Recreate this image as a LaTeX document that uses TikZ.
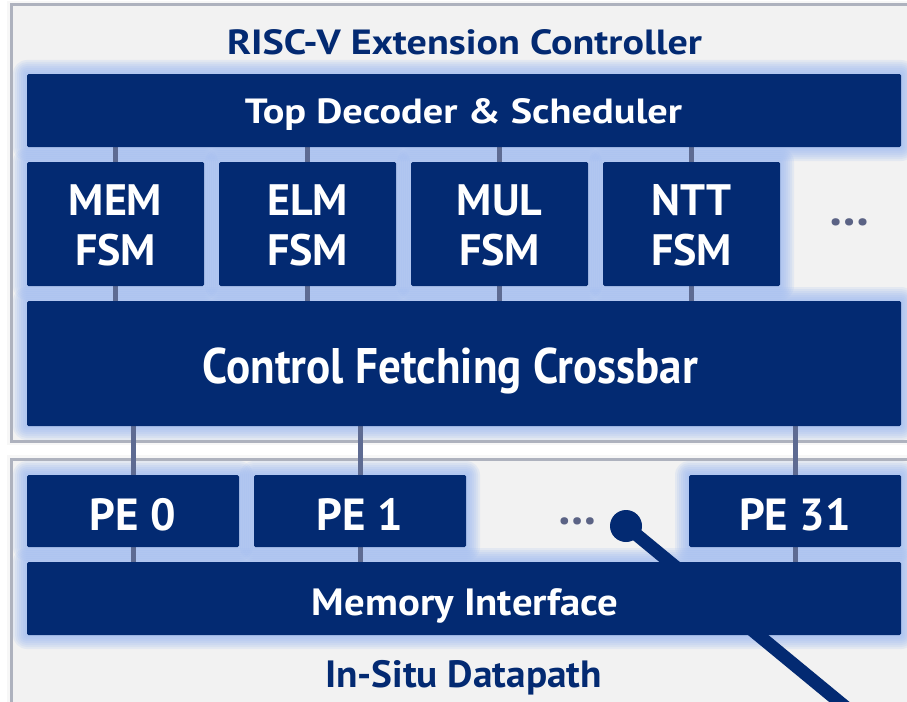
\documentclass[tikz,border=0pt]{standalone}
\usepackage{fontspec}
\setmainfont{PT Sans}
\usepackage{graphicx}
\definecolor{navy}{HTML}{032A72}
\definecolor{glowc}{HTML}{9AB8F0}
\definecolor{contfill}{HTML}{F2F2F2}
\definecolor{contline}{HTML}{AEB2BE}
\definecolor{connc}{HTML}{5E6B92}
\definecolor{dotc}{HTML}{5B6385}
\pgfdeclarelayer{base}
\pgfdeclarelayer{glowl}
\pgfdeclarelayer{connl}
\pgfdeclarelayer{front}
\pgfsetlayers{base,glowl,connl,main,front}
\newcommand{\glowbox}[4]{%
  \begin{pgfonlayer}{glowl}
  \foreach \k in {14,12,10,8,6,4,2}{
    \fill[glowc, opacity=0.16, rounded corners=\k pt] ({#1-\k},{#2-\k}) rectangle ({#3+\k},{#4+\k});
  }
  \end{pgfonlayer}}
\tikzset{
  box/.style={fill=navy, draw=none, rounded corners=1.5pt, inner sep=0pt, outer sep=0pt},
  lbl/.style={text=white, anchor=base, inner sep=0pt},
  conn/.style={draw=connc, line width=5pt},
  cont/.style={fill=contfill, draw=contline, line width=3pt},
  ttl/.style={text=navy, anchor=base, inner sep=0pt, font=\bfseries\fontsize{35}{40}\selectfont},
  dotsl/.style={text=dotc, anchor=base, inner sep=0pt, font=\bfseries\fontsize{48}{50}\selectfont},
}
\newcommand{\fsmbox}[3]{% name, left x, label
  \node[box, minimum width=177pt, minimum height=124pt] (#1) at ({#2+88.5},224) {};
  \glowbox{#2}{162}{#2+177}{286}
  \node[lbl, font=\bfseries\fontsize{44}{48}\selectfont] (#1t) at ({#2+88.5},215) {#3};
  \node[lbl, font=\bfseries\fontsize{44}{48}\selectfont] (#1u) at ({#2+88.5},265) {FSM};
}
\newcommand{\pebox}[3]{% name, left x, label
  \node[box, minimum width=212pt, minimum height=72pt] (#1) at ({#2+106},511) {};
  \glowbox{#2}{475}{#2+212}{547}
  \node[lbl, font=\bfseries\fontsize{45}{48}\selectfont] (#1t) at ({#2+106},530) {#3};
}
\begin{document}
\begin{tikzpicture}[x=1pt,y=-1pt]
\useasboundingbox (0,0) rectangle (907,701);
\clip (0,0) rectangle (907,701);
\begin{pgfonlayer}{base}
  \fill[white] (0,0) rectangle (907,701);
  \fill[contfill!60!white] (7,1) rectangle (940,445);
  \fill[contfill!60!white] (7,455) rectangle (940,740);
  \draw[cont] (11,5) rectangle (940,441);
  \draw[cont] (11,459) rectangle (940,740);
\end{pgfonlayer}

\node[ttl] (title) at (464.5,55) {\resizebox{475pt}{\height}{RISC-V Extension Controller}};

% Top decoder
\node[box, minimum width=874pt, minimum height=73pt] (top) at (464,110.5) {};
\glowbox{27}{74}{901}{147}
\node[lbl, font=\bfseries\fontsize{35}{40}\selectfont] (topt) at (463.5,123) {\resizebox{437pt}{\height}{Top Decoder \& Scheduler}};

% FSMs
\fsmbox{mem}{27}{MEM}
\fsmbox{elm}{219}{ELM}
\fsmbox{mul}{411}{MUL}
\fsmbox{ntt}{603}{NTT}
\node[dotsl] (fdots) at (849,225) {\resizebox{40pt}{\height}{…}};

% Crossbar
\node[box, minimum width=874pt, minimum height=125pt] (xbar) at (464,363.5) {};
\glowbox{27}{301}{901}{426}
\node[lbl, font=\bfseries\fontsize{50}{55}\selectfont] (xbart) at (450.5,383) {\resizebox{495pt}{\height}{Control Fetching Crossbar}};

% PEs
\pebox{pe0}{27}{PE 0}
\pebox{pe1}{254}{PE 1}
\pebox{pe31}{689}{PE 31}
\node[dotsl] (pdots) at (577.5,524) {\resizebox{38pt}{\height}{…}};

% Memory interface
\node[box, minimum width=874pt, minimum height=73pt] (memif) at (464,598.5) {};
\glowbox{27}{562}{901}{635}
\node[lbl, font=\bfseries\fontsize{38}{42}\selectfont] (memift) at (465,615) {\resizebox{306pt}{\height}{Memory Interface}};

\node[ttl, font=\bfseries\fontsize{38}{42}\selectfont] (dp) at (463.5,687) {\resizebox{277pt}{\height}{In-Situ Datapath}};

% connectors
\begin{pgfonlayer}{connl}
  \foreach \n in {mem,elm,mul,ntt}{
    \draw[conn] (\n.north) -- (\n.north |- top.south);
    \draw[conn] (\n.south) -- (\n.south |- xbar.north);
  }
  \foreach \n in {pe0,pe1,pe31}{
    \draw[conn] (\n.north) -- (\n.north |- xbar.south);
    \draw[conn] (\n.south) -- (\n.south |- memif.north);
  }
\end{pgfonlayer}

% pointer
\coordinate (pin) at (626,526);
\coordinate (pend) at (900,752);
\begin{pgfonlayer}{front}
  \draw[navy, line width=13pt] (pin) -- (pend);
  \fill[navy] (pin) circle (16pt);
\end{pgfonlayer}
\end{tikzpicture}
\end{document}
